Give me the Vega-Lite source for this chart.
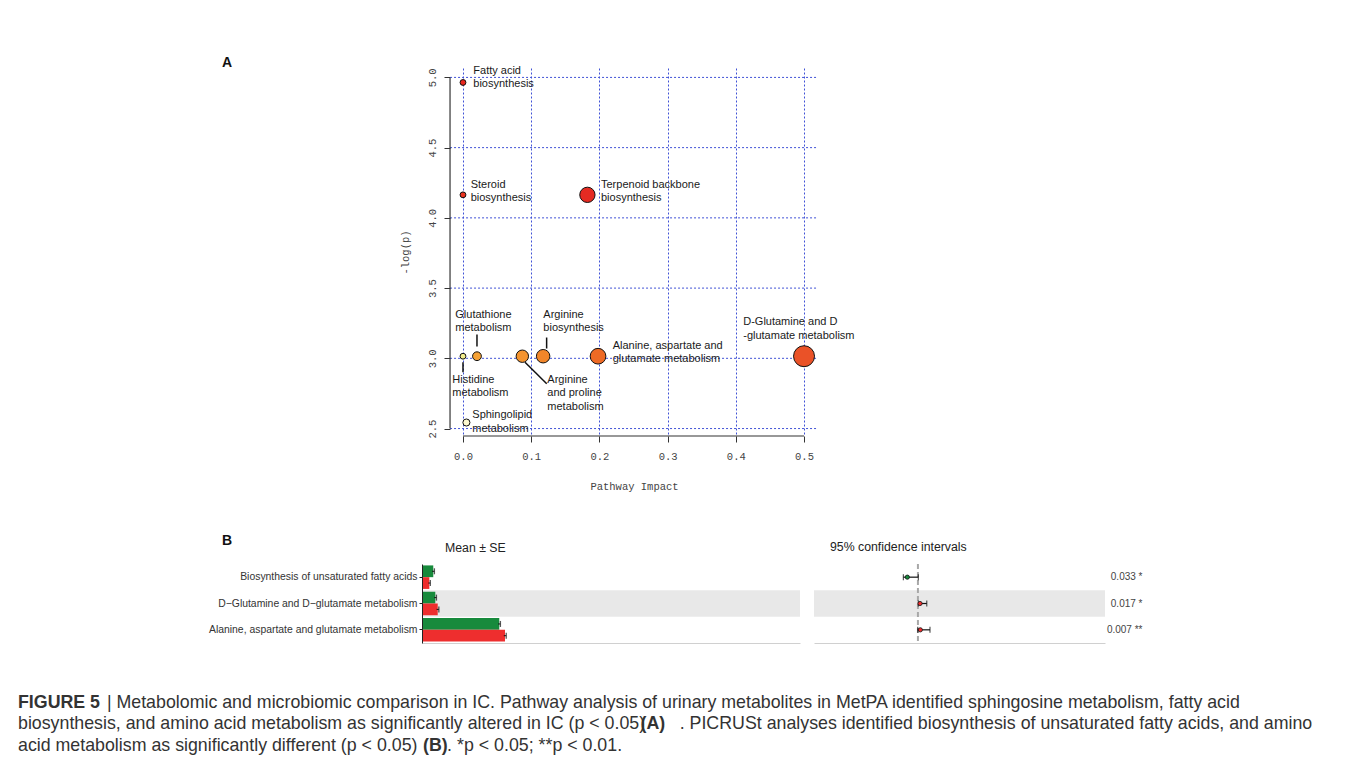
{
  "$schema": "https://vega.github.io/schema/vega-lite/v6.json",
  "background": "white",
  "padding": {"left": 18, "top": 55, "right": 5, "bottom": 5},
  "bounds": "flush",
  "spacing": 128,
  "resolve": {"scale": {"color": "independent", "size": "independent"}},
  "datasets": {
    "pathA": [
      {"pathway": "Fatty acid biosynthesis", "label": "Fatty acid\nbiosynthesis", "impact": 0.0, "logp": 4.964},
      {"pathway": "Steroid biosynthesis", "label": "Steroid\nbiosynthesis", "impact": 0.0, "logp": 4.164},
      {"pathway": "Terpenoid backbone biosynthesis", "label": "Terpenoid backbone\nbiosynthesis", "impact": 0.1824, "logp": 4.164},
      {"pathway": "Histidine metabolism", "label": "Histidine\nmetabolism", "impact": 0.0, "logp": 3.015},
      {"pathway": "Glutathione metabolism", "label": "Glutathione\nmetabolism", "impact": 0.0205, "logp": 3.015},
      {"pathway": "Arginine and proline metabolism", "label": "Arginine\nand proline\nmetabolism", "impact": 0.087, "logp": 3.015},
      {"pathway": "Arginine biosynthesis", "label": "Arginine\nbiosynthesis", "impact": 0.1175, "logp": 3.015},
      {"pathway": "Alanine, aspartate and glutamate metabolism", "label": "Alanine, aspartate and\nglutamate metabolism", "impact": 0.198, "logp": 3.015},
      {"pathway": "D-Glutamine and D-glutamate metabolism", "label": "D-Glutamine and D\n-glutamate metabolism", "impact": 0.5, "logp": 3.015},
      {"pathway": "Sphingolipid metabolism", "label": "Sphingolipid\nmetabolism", "impact": 0.005, "logp": 2.543}
    ],
    "means": [
      {"pathway": "Biosynthesis of unsaturated fatty acids", "group": "Control", "mean": 0.0149, "lo": 0.0134, "hi": 0.0164},
      {"pathway": "Biosynthesis of unsaturated fatty acids", "group": "IC", "mean": 0.0097, "lo": 0.0084, "hi": 0.011},
      {"pathway": "D−Glutamine and D−glutamate metabolism", "group": "Control", "mean": 0.0176, "lo": 0.0161, "hi": 0.0191},
      {"pathway": "D−Glutamine and D−glutamate metabolism", "group": "IC", "mean": 0.0208, "lo": 0.0193, "hi": 0.0223},
      {"pathway": "Alanine, aspartate and glutamate metabolism", "group": "Control", "mean": 0.1022, "lo": 0.1007, "hi": 0.1037},
      {"pathway": "Alanine, aspartate and glutamate metabolism", "group": "IC", "mean": 0.1098, "lo": 0.1082, "hi": 0.1114}
    ],
    "ci": [
      {"pathway": "Biosynthesis of unsaturated fatty acids", "order": 1, "plabel": "0.033 *", "diff": -0.0102, "lo": -0.014, "hi": 0.0004, "higher": "Control"},
      {"pathway": "D−Glutamine and D−glutamate metabolism", "order": 2, "plabel": "0.017 *", "diff": 0.002, "lo": 0.0004, "hi": 0.0085, "higher": "IC"},
      {"pathway": "Alanine, aspartate and glutamate metabolism", "order": 3, "plabel": "0.007 **", "diff": 0.0023, "lo": -0.0002, "hi": 0.0116, "higher": "IC"}
    ]
  },
  "title": {
    "text": [
      "\u200b\u00a0\u00a0\u00a0\u00a0\u00a0\u00a0\u00a0\u00a0\u00a0\u00a0\u00a0\u00a0\u00a0\u00a0\u00a0\u00a0\u00a0\u00a0| Metabolomic and microbiomic comparison in IC. Pathway analysis of urinary metabolites in MetPA identified sphingosine metabolism, fatty acid",
      "biosynthesis, and amino acid metabolism as significantly altered in IC (p < 0.05) \u00a0\u00a0\u00a0\u00a0\u00a0\u00a0. PICRUSt analyses identified biosynthesis of unsaturated fatty acids, and amino",
      "acid metabolism as significantly different (p < 0.05) \u00a0\u00a0\u00a0\u00a0\u00a0. *p < 0.05; **p < 0.01."
    ],
    "subtitle": [
      "FIGURE 5",
      "\u200b\u00a0\u00a0\u00a0\u00a0\u00a0\u00a0\u00a0\u00a0\u00a0\u00a0\u00a0\u00a0\u00a0\u00a0\u00a0\u00a0\u00a0\u00a0\u00a0\u00a0\u00a0\u00a0\u00a0\u00a0\u00a0\u00a0\u00a0\u00a0\u00a0\u00a0\u00a0\u00a0\u00a0\u00a0\u00a0\u00a0\u00a0\u00a0\u00a0\u00a0\u00a0\u00a0\u00a0\u00a0\u00a0\u00a0\u00a0\u00a0\u00a0\u00a0\u00a0\u00a0\u00a0\u00a0\u00a0\u00a0\u00a0\u00a0\u00a0\u00a0\u00a0\u00a0\u00a0\u00a0\u00a0\u00a0\u00a0\u00a0\u00a0\u00a0\u00a0\u00a0\u00a0\u00a0\u00a0\u00a0\u00a0\u00a0\u00a0\u00a0\u00a0\u00a0\u00a0\u00a0\u00a0\u00a0\u00a0\u00a0\u00a0\u00a0\u00a0\u00a0\u00a0\u00a0\u00a0\u00a0\u00a0\u00a0\u00a0\u00a0\u00a0\u00a0\u00a0\u00a0\u00a0\u00a0\u00a0\u00a0\u00a0\u00a0\u00a0\u00a0\u00a0\u00a0\u00a0\u00a0\u00a0\u00a0\u00a0\u00a0\u00a0\u00a0\u00a0\u00a0\u00a0\u00a0(A)",
      "\u200b\u00a0\u00a0\u00a0\u00a0\u00a0\u00a0\u00a0\u00a0\u00a0\u00a0\u00a0\u00a0\u00a0\u00a0\u00a0\u00a0\u00a0\u00a0\u00a0\u00a0\u00a0\u00a0\u00a0\u00a0\u00a0\u00a0\u00a0\u00a0\u00a0\u00a0\u00a0\u00a0\u00a0\u00a0\u00a0\u00a0\u00a0\u00a0\u00a0\u00a0\u00a0\u00a0\u00a0\u00a0\u00a0\u00a0\u00a0\u00a0\u00a0\u00a0\u00a0\u00a0\u00a0\u00a0\u00a0\u00a0\u00a0\u00a0\u00a0\u00a0\u00a0\u00a0\u00a0\u00a0\u00a0\u00a0\u00a0\u00a0\u00a0\u00a0\u00a0\u00a0\u00a0\u00a0\u00a0\u00a0\u00a0\u00a0\u00a0\u00a0\u00a0\u00a0(B)"
    ],
    "orient": "bottom",
    "anchor": "start",
    "frame": "group",
    "dx": -404,
    "offset": 49.5,
    "font": "Liberation Sans",
    "fontSize": 17.8,
    "fontWeight": "normal",
    "color": "#333333",
    "lineHeight": 21.5,
    "subtitleFont": "Liberation Sans",
    "subtitleFontSize": 17.8,
    "subtitleFontWeight": "bold",
    "subtitleColor": "#333333",
    "subtitleLineHeight": 21.5,
    "subtitlePadding": -60.8
  },
  "vconcat": [
    {
      "width": 396,
      "height": 368,
      "title": {"text": "A", "anchor": "start", "frame": "group", "dx": -200, "offset": -5.3, "fontSize": 14, "fontWeight": "bold", "font": "Liberation Sans", "color": "#111111"},
      "layer": [
        {
          "data": {"values": [{"t": 2.5}, {"t": 3.0}, {"t": 3.5}, {"t": 4.0}, {"t": 4.5}, {"t": 5.0}]},
          "mark": {"type": "rule", "color": "#4052d6", "strokeDash": [2, 2], "strokeWidth": 1},
          "encoding": {
            "y": {"field": "t", "type": "quantitative", "scale": {"domain": [2.447, 5.067], "nice": false, "zero": false},
              "axis": {"values": [2.5, 3.0, 3.5, 4.0, 4.5, 5.0], "format": ".1f", "offset": -28, "domain": false, "grid": false, "ticks": true, "tickSize": 6, "tickColor": "#333333", "labelAngle": 270, "labelAlign": "center", "labelBaseline": "bottom", "labelPadding": 7, "labelFont": "Liberation Mono", "labelFontSize": 10.5, "labelColor": "#444444", "labelFlush": false, "title": "-log(p)", "titleFont": "Liberation Mono", "titleFontSize": 10.5, "titleFontWeight": "normal", "titleColor": "#444444", "titleAngle": 270, "titleX": -45, "titleY": 184, "titleAlign": "center", "titleBaseline": "middle"}},
            "x": {"datum": -0.019, "type": "quantitative", "scale": {"domain": [-0.0601, 0.5205], "nice": false, "zero": false},
              "axis": {"values": [0, 0.1, 0.2, 0.3, 0.4, 0.5], "format": ".1f", "domain": false, "grid": true, "gridColor": "#4052d6", "gridDash": [2, 2], "gridWidth": 1, "ticks": true, "tickSize": 6, "tickColor": "#333333", "labelFont": "Liberation Mono", "labelFontSize": 10.5, "labelColor": "#444444", "labelPadding": 9, "labelFlush": false, "title": "Pathway Impact", "titleFont": "Liberation Mono", "titleFontSize": 10.5, "titleFontWeight": "normal", "titleColor": "#444444", "titleX": 212, "titleY": 50, "titleAlign": "center", "titleBaseline": "middle"}},
            "x2": {"datum": 0.5205}
          }
        },
        {
          "data": {"name": "pathA"},
          "mark": {"type": "circle", "stroke": "#111111", "strokeWidth": 1, "opacity": 1},
          "encoding": {
            "x": {"field": "impact", "type": "quantitative", "scale": {"domain": [-0.0601, 0.5205], "nice": false, "zero": false}},
            "y": {"field": "logp", "type": "quantitative", "scale": {"domain": [2.447, 5.067], "nice": false, "zero": false}},
            "size": {"field": "impact", "type": "quantitative", "scale": {"type": "pow", "exponent": 0.7, "domain": [0, 0.5], "range": [34, 440]}, "legend": null},
            "color": {"field": "pathway", "type": "nominal", "legend": null,
              "scale": {
                "domain": ["Fatty acid biosynthesis", "Steroid biosynthesis", "Terpenoid backbone biosynthesis", "Histidine metabolism", "Glutathione metabolism", "Arginine and proline metabolism", "Arginine biosynthesis", "Alanine, aspartate and glutamate metabolism", "D-Glutamine and D-glutamate metabolism", "Sphingolipid metabolism"],
                "range": ["#e8261f", "#ea3420", "#e52b22", "#f4ee8c", "#f6a236", "#f4942f", "#f1862a", "#ee6a25", "#ea5228", "#fcf8d0"]
              }}
          }
        },
        {
          "data": {"values": [{"line": "y"}]},
          "mark": {"type": "rule", "color": "#333333", "strokeWidth": 1.2},
          "encoding": {
            "x": {"datum": -0.019, "type": "quantitative", "scale": {"domain": [-0.0601, 0.5205], "nice": false, "zero": false}},
            "y": {"datum": 2.5, "type": "quantitative", "scale": {"domain": [2.447, 5.067], "nice": false, "zero": false}},
            "y2": {"datum": 5.0}
          }
        },
        {
          "data": {"values": [{"line": "x"}]},
          "mark": {"type": "rule", "color": "#333333", "strokeWidth": 1.2},
          "encoding": {
            "x": {"datum": 0, "type": "quantitative", "scale": {"domain": [-0.0601, 0.5205], "nice": false, "zero": false}},
            "x2": {"datum": 0.5},
            "y": {"datum": 2.447, "type": "quantitative", "scale": {"domain": [2.447, 5.067], "nice": false, "zero": false}}
          }
        },
        {
          "data": {"name": "pathA"},
          "transform": [{"filter": "datum.pathway == 'Histidine metabolism'"}],
          "mark": {"type": "rule", "color": "#111111", "strokeWidth": 1.5, "yOffset": 6, "y2Offset": 16},
          "encoding": {
            "x": {"field": "impact", "type": "quantitative", "scale": {"domain": [-0.0601, 0.5205], "nice": false, "zero": false}},
            "y": {"field": "logp", "type": "quantitative", "scale": {"domain": [2.447, 5.067], "nice": false, "zero": false}},
            "y2": {"field": "logp"}
          }
        },
        {
          "data": {"name": "pathA"},
          "transform": [{"filter": "datum.pathway == 'Glutathione metabolism'"}],
          "mark": {"type": "rule", "color": "#111111", "strokeWidth": 1.5, "yOffset": -21.7, "y2Offset": -9.7},
          "encoding": {
            "x": {"field": "impact", "type": "quantitative", "scale": {"domain": [-0.0601, 0.5205], "nice": false, "zero": false}},
            "y": {"field": "logp", "type": "quantitative", "scale": {"domain": [2.447, 5.067], "nice": false, "zero": false}},
            "y2": {"field": "logp"}
          }
        },
        {
          "data": {"name": "pathA"},
          "transform": [{"filter": "datum.pathway == 'Arginine biosynthesis'"}],
          "mark": {"type": "rule", "color": "#111111", "strokeWidth": 1.5, "xOffset": 3.5, "yOffset": -18.7, "y2Offset": -7.7},
          "encoding": {
            "x": {"field": "impact", "type": "quantitative", "scale": {"domain": [-0.0601, 0.5205], "nice": false, "zero": false}},
            "y": {"field": "logp", "type": "quantitative", "scale": {"domain": [2.447, 5.067], "nice": false, "zero": false}},
            "y2": {"field": "logp"}
          }
        },
        {
          "data": {"name": "pathA"},
          "transform": [{"filter": "datum.pathway == 'Arginine and proline metabolism'"}],
          "mark": {"type": "rule", "color": "#111111", "strokeWidth": 1.5, "xOffset": 2.7, "yOffset": 6, "x2Offset": 24.4, "y2Offset": 27.6},
          "encoding": {
            "x": {"field": "impact", "type": "quantitative", "scale": {"domain": [-0.0601, 0.5205], "nice": false, "zero": false}},
            "x2": {"field": "impact"},
            "y": {"field": "logp", "type": "quantitative", "scale": {"domain": [2.447, 5.067], "nice": false, "zero": false}},
            "y2": {"field": "logp"}
          }
        },
        {"data": {"name": "pathA"}, "transform": [{"filter": "datum.pathway == 'Fatty acid biosynthesis'"}],
          "mark": {"type": "text", "align": "left", "baseline": "middle", "dx": 10.3, "dy": -11.8, "fontSize": 11, "lineHeight": 13.5, "lineBreak": "\n", "font": "Liberation Sans", "color": "#1a1a1a"},
          "encoding": {"x": {"field": "impact", "type": "quantitative", "scale": {"domain": [-0.0601, 0.5205], "nice": false, "zero": false}}, "y": {"field": "logp", "type": "quantitative", "scale": {"domain": [2.447, 5.067], "nice": false, "zero": false}}, "text": {"field": "label"}}},
        {"data": {"name": "pathA"}, "transform": [{"filter": "datum.pathway == 'Steroid biosynthesis'"}],
          "mark": {"type": "text", "align": "left", "baseline": "middle", "dx": 7.7, "dy": -10.1, "fontSize": 11, "lineHeight": 13.5, "lineBreak": "\n", "font": "Liberation Sans", "color": "#1a1a1a"},
          "encoding": {"x": {"field": "impact", "type": "quantitative", "scale": {"domain": [-0.0601, 0.5205], "nice": false, "zero": false}}, "y": {"field": "logp", "type": "quantitative", "scale": {"domain": [2.447, 5.067], "nice": false, "zero": false}}, "text": {"field": "label"}}},
        {"data": {"name": "pathA"}, "transform": [{"filter": "datum.pathway == 'Terpenoid backbone biosynthesis'"}],
          "mark": {"type": "text", "align": "left", "baseline": "middle", "dx": 13.6, "dy": -10.1, "fontSize": 11, "lineHeight": 13.5, "lineBreak": "\n", "font": "Liberation Sans", "color": "#1a1a1a"},
          "encoding": {"x": {"field": "impact", "type": "quantitative", "scale": {"domain": [-0.0601, 0.5205], "nice": false, "zero": false}}, "y": {"field": "logp", "type": "quantitative", "scale": {"domain": [2.447, 5.067], "nice": false, "zero": false}}, "text": {"field": "label"}}},
        {"data": {"name": "pathA"}, "transform": [{"filter": "datum.pathway == 'Glutathione metabolism'"}],
          "mark": {"type": "text", "align": "left", "baseline": "middle", "dx": -21.7, "dy": -41.3, "fontSize": 11, "lineHeight": 13.5, "lineBreak": "\n", "font": "Liberation Sans", "color": "#1a1a1a"},
          "encoding": {"x": {"field": "impact", "type": "quantitative", "scale": {"domain": [-0.0601, 0.5205], "nice": false, "zero": false}}, "y": {"field": "logp", "type": "quantitative", "scale": {"domain": [2.447, 5.067], "nice": false, "zero": false}}, "text": {"field": "label"}}},
        {"data": {"name": "pathA"}, "transform": [{"filter": "datum.pathway == 'Arginine biosynthesis'"}],
          "mark": {"type": "text", "align": "left", "baseline": "middle", "dx": 0.2, "dy": -41.3, "fontSize": 11, "lineHeight": 13.5, "lineBreak": "\n", "font": "Liberation Sans", "color": "#1a1a1a"},
          "encoding": {"x": {"field": "impact", "type": "quantitative", "scale": {"domain": [-0.0601, 0.5205], "nice": false, "zero": false}}, "y": {"field": "logp", "type": "quantitative", "scale": {"domain": [2.447, 5.067], "nice": false, "zero": false}}, "text": {"field": "label"}}},
        {"data": {"name": "pathA"}, "transform": [{"filter": "datum.pathway == 'Alanine, aspartate and glutamate metabolism'"}],
          "mark": {"type": "text", "align": "left", "baseline": "middle", "dx": 14.6, "dy": -10.6, "fontSize": 11, "lineHeight": 13.5, "lineBreak": "\n", "font": "Liberation Sans", "color": "#1a1a1a"},
          "encoding": {"x": {"field": "impact", "type": "quantitative", "scale": {"domain": [-0.0601, 0.5205], "nice": false, "zero": false}}, "y": {"field": "logp", "type": "quantitative", "scale": {"domain": [2.447, 5.067], "nice": false, "zero": false}}, "text": {"field": "label"}}},
        {"data": {"name": "pathA"}, "transform": [{"filter": "datum.pathway == 'D-Glutamine and D-glutamate metabolism'"}],
          "mark": {"type": "text", "align": "left", "baseline": "middle", "dx": -60.8, "dy": -33.9, "fontSize": 11, "lineHeight": 13.5, "lineBreak": "\n", "font": "Liberation Sans", "color": "#1a1a1a"},
          "encoding": {"x": {"field": "impact", "type": "quantitative", "scale": {"domain": [-0.0601, 0.5205], "nice": false, "zero": false}}, "y": {"field": "logp", "type": "quantitative", "scale": {"domain": [2.447, 5.067], "nice": false, "zero": false}}, "text": {"field": "label"}}},
        {"data": {"name": "pathA"}, "transform": [{"filter": "datum.pathway == 'Histidine metabolism'"}],
          "mark": {"type": "text", "align": "left", "baseline": "middle", "dx": -10.7, "dy": 23.7, "fontSize": 11, "lineHeight": 13.5, "lineBreak": "\n", "font": "Liberation Sans", "color": "#1a1a1a"},
          "encoding": {"x": {"field": "impact", "type": "quantitative", "scale": {"domain": [-0.0601, 0.5205], "nice": false, "zero": false}}, "y": {"field": "logp", "type": "quantitative", "scale": {"domain": [2.447, 5.067], "nice": false, "zero": false}}, "text": {"field": "label"}}},
        {"data": {"name": "pathA"}, "transform": [{"filter": "datum.pathway == 'Arginine and proline metabolism'"}],
          "mark": {"type": "text", "align": "left", "baseline": "middle", "dx": 25, "dy": 23.7, "fontSize": 11, "lineHeight": 13.5, "lineBreak": "\n", "font": "Liberation Sans", "color": "#1a1a1a"},
          "encoding": {"x": {"field": "impact", "type": "quantitative", "scale": {"domain": [-0.0601, 0.5205], "nice": false, "zero": false}}, "y": {"field": "logp", "type": "quantitative", "scale": {"domain": [2.447, 5.067], "nice": false, "zero": false}}, "text": {"field": "label"}}},
        {"data": {"name": "pathA"}, "transform": [{"filter": "datum.pathway == 'Sphingolipid metabolism'"}],
          "mark": {"type": "text", "align": "left", "baseline": "middle", "dx": 5.9, "dy": -7.5, "fontSize": 11, "lineHeight": 13.5, "lineBreak": "\n", "font": "Liberation Sans", "color": "#1a1a1a"},
          "encoding": {"x": {"field": "impact", "type": "quantitative", "scale": {"domain": [-0.0601, 0.5205], "nice": false, "zero": false}}, "y": {"field": "logp", "type": "quantitative", "scale": {"domain": [2.447, 5.067], "nice": false, "zero": false}}, "text": {"field": "label"}}}
      ]
    },
    {
      "bounds": "flush",
      "spacing": 14,
      "title": {"text": "B", "anchor": "start", "frame": "group", "dx": -200, "offset": -7.6, "fontSize": 14, "fontWeight": "bold", "font": "Liberation Sans", "color": "#111111"},
      "hconcat": [
        {
          "width": 378,
          "height": 79,
          "title": {"text": "Mean ± SE", "anchor": "start", "frame": "group", "dx": 23, "offset": 10, "fontSize": 12.3, "fontWeight": "normal", "font": "Liberation Sans", "color": "#222222"},
          "layer": [
            {
              "data": {"name": "ci"},
              "transform": [{"filter": "datum.order == 2"}],
              "mark": {"type": "rect", "color": "#e8e8e8"},
              "encoding": {
                "y": {"field": "pathway", "type": "nominal", "sort": ["Biosynthesis of unsaturated fatty acids", "D−Glutamine and D−glutamate metabolism", "Alanine, aspartate and glutamate metabolism"], "scale": {"paddingInner": 0, "paddingOuter": 0},
                  "axis": {"title": null, "domainColor": "#222222", "domainWidth": 1, "tickColor": "#222222", "tickSize": 3, "labelPadding": 2, "labelFontSize": 10.4, "labelColor": "#333333", "labelLimit": 400, "labelFont": "Liberation Sans", "grid": false}},
                "x": {"datum": 0, "type": "quantitative", "scale": {"domain": [0, 0.5], "nice": false},
                  "axis": {"title": null, "labels": false, "ticks": false, "grid": false, "domainColor": "#d0d0d0"}},
                "x2": {"datum": 0.5}
              }
            },
            {
              "data": {"name": "means"},
              "mark": {"type": "bar"},
              "encoding": {
                "y": {"field": "pathway", "type": "nominal", "sort": ["Biosynthesis of unsaturated fatty acids", "D−Glutamine and D−glutamate metabolism", "Alanine, aspartate and glutamate metabolism"]},
                "yOffset": {"field": "group", "type": "nominal", "sort": ["Control", "IC"], "scale": {"paddingInner": 0, "paddingOuter": 0.12}},
                "x": {"field": "mean", "type": "quantitative", "scale": {"domain": [0, 0.5], "nice": false}},
                "color": {"field": "group", "type": "nominal", "scale": {"domain": ["Control", "IC"], "range": ["#178a3c", "#ee2e2e"]}, "legend": null}
              }
            },
            {
              "data": {"name": "means"},
              "mark": {"type": "rule", "color": "#111111", "strokeWidth": 1},
              "encoding": {
                "y": {"field": "pathway", "type": "nominal", "sort": ["Biosynthesis of unsaturated fatty acids", "D−Glutamine and D−glutamate metabolism", "Alanine, aspartate and glutamate metabolism"]},
                "yOffset": {"field": "group", "type": "nominal", "sort": ["Control", "IC"]},
                "x": {"field": "lo", "type": "quantitative", "scale": {"domain": [0, 0.5], "nice": false}},
                "x2": {"field": "hi"}
              }
            },
            {
              "data": {"name": "means"},
              "mark": {"type": "tick", "color": "#111111", "thickness": 1.3, "size": 6},
              "encoding": {
                "y": {"field": "pathway", "type": "nominal", "sort": ["Biosynthesis of unsaturated fatty acids", "D−Glutamine and D−glutamate metabolism", "Alanine, aspartate and glutamate metabolism"]},
                "yOffset": {"field": "group", "type": "nominal", "sort": ["Control", "IC"]},
                "x": {"field": "hi", "type": "quantitative", "scale": {"domain": [0, 0.5], "nice": false}}
              }
            }
          ]
        },
        {
          "width": 291,
          "height": 79,
          "title": {"text": "95% confidence intervals", "anchor": "start", "frame": "group", "dx": 16, "offset": 10, "fontSize": 12.3, "fontWeight": "normal", "font": "Liberation Sans", "color": "#222222"},
          "data": {"name": "ci"},
          "layer": [
            {
              "transform": [{"filter": "datum.order == 2"}],
              "mark": {"type": "rect", "color": "#e8e8e8"},
              "encoding": {
                "y": {"field": "plabel", "type": "nominal", "sort": ["0.033 *", "0.017 *", "0.007 **"], "scale": {"paddingInner": 0, "paddingOuter": 0},
                  "axis": {"orient": "right", "title": null, "domain": false, "ticks": false, "grid": false, "labelAlign": "right", "labelPadding": 37, "labelFontSize": 10, "labelColor": "#444444", "labelFont": "Liberation Sans"}},
                "x": {"datum": -0.1, "type": "quantitative", "scale": {"domain": [-0.1, 0.18], "nice": false, "zero": false},
                  "axis": {"title": null, "labels": false, "ticks": false, "grid": false, "domainColor": "#d0d0d0"}},
                "x2": {"datum": 0.18}
              }
            },
            {
              "transform": [{"filter": "datum.order == 1"}],
              "mark": {"type": "rule", "color": "#a8a8a8", "strokeWidth": 2, "strokeDash": [5, 3]},
              "encoding": {
                "x": {"datum": 0, "type": "quantitative", "scale": {"domain": [-0.1, 0.18], "nice": false, "zero": false}}
              }
            },
            {
              "mark": {"type": "rule", "color": "#111111", "strokeWidth": 1.2},
              "encoding": {
                "y": {"field": "plabel", "type": "nominal", "sort": ["0.033 *", "0.017 *", "0.007 **"]},
                "x": {"field": "lo", "type": "quantitative", "scale": {"domain": [-0.1, 0.18], "nice": false, "zero": false}},
                "x2": {"field": "hi"}
              }
            },
            {
              "mark": {"type": "tick", "color": "#111111", "thickness": 1.2, "size": 6},
              "encoding": {
                "y": {"field": "plabel", "type": "nominal", "sort": ["0.033 *", "0.017 *", "0.007 **"]},
                "x": {"field": "lo", "type": "quantitative", "scale": {"domain": [-0.1, 0.18], "nice": false, "zero": false}}
              }
            },
            {
              "mark": {"type": "tick", "color": "#111111", "thickness": 1.2, "size": 6},
              "encoding": {
                "y": {"field": "plabel", "type": "nominal", "sort": ["0.033 *", "0.017 *", "0.007 **"]},
                "x": {"field": "hi", "type": "quantitative", "scale": {"domain": [-0.1, 0.18], "nice": false, "zero": false}}
              }
            },
            {
              "mark": {"type": "circle", "stroke": "#111111", "strokeWidth": 0.8, "size": 18, "opacity": 1},
              "encoding": {
                "y": {"field": "plabel", "type": "nominal", "sort": ["0.033 *", "0.017 *", "0.007 **"]},
                "x": {"field": "diff", "type": "quantitative", "scale": {"domain": [-0.1, 0.18], "nice": false, "zero": false}},
                "color": {"field": "higher", "type": "nominal", "scale": {"domain": ["Control", "IC"], "range": ["#178a3c", "#ee2e2e"]}, "legend": null}
              }
            }
          ]
        }
      ]
    }
  ],
  "config": {
    "view": {"stroke": null},
    "font": "Liberation Sans",
    "axis": {"labelFont": "Liberation Sans", "titleFont": "Liberation Sans"},
    "title": {"font": "Liberation Sans"}
  }
}
